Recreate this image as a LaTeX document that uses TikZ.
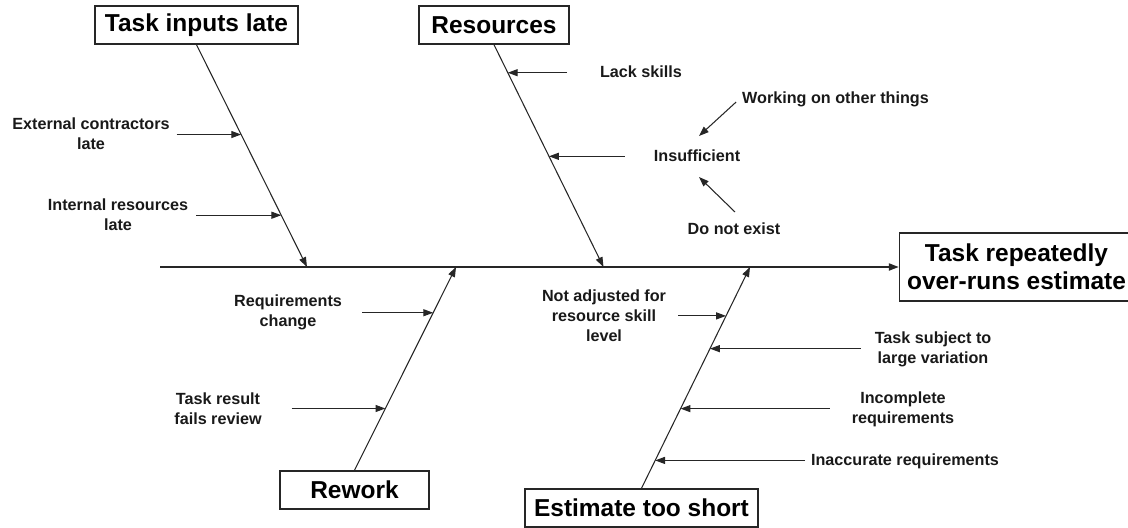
\documentclass[tikz,border=0pt]{standalone}
\usepackage{fontspec}
\setmainfont{Liberation Sans}
\usetikzlibrary{arrows.meta,calc,positioning}

\tikzset{
	>={Triangle[length=7pt,width=5pt]},
	cause/.style={draw=black!85, line width=1pt, font=\fontsize{17.4}{20}\selectfont\bfseries, minimum height=0.95cm, inner sep=0pt},
	reason/.style={font=\fontsize{11.5}{14.2}\selectfont\bfseries, align=center, inner sep=2pt, text=black!90},
	bone/.style={draw=black!85, line width=0.75pt},
	spine/.style={draw=black!85, line width=1.2pt},
}

\begin{document}
\begin{tikzpicture}[x=0.025cm, y=-0.025cm]
	\useasboundingbox (0,0) rectangle (1128,527);
	\clip (0,0) rectangle (1128,527);

	%% Kopf und Hauptgraete
	\node[cause, align=center, minimum width=5.85cm, minimum height=1.7cm] (effect) at (1016.5,267) {Task repeatedly\\over-runs estimate};
	\coordinate (tail) at (160,267);
	\draw[->, spine] (tail) -- (effect.west);
	\coordinate (j1) at (307,267);
	\coordinate (j2) at (603.5,267);
	\coordinate (j3) at (456,267);
	\coordinate (j4) at (750,267);
	%%%%%%%%%%%%%%%%

	%% Task inputs late
\begin{scope}
	\node[cause, minimum width=5.075cm] (inputs) at (196.5,25) {Task inputs late};
	\draw[->, bone] (inputs.south) -- (j1) coordinate[pos=.404] (ext-c) coordinate[pos=.767] (int-c);
	\node[reason] (ext) at (91,134) {External contractors\\late};
	\node[reason] (int) at (118,215) {Internal resources\\late};
	\draw[->, bone] ($(ext-c -| ext.east)+(4,0)$) -- (ext-c);
	\draw[->, bone] ($(int-c -| int.east)+(5,0)$) -- (int-c);
\end{scope}

	%% Resources
\begin{scope}
	\node[cause, minimum width=3.75cm] (resources) at (494,25) {Resources};
	\draw[->, bone] (resources.south) -- (j2) coordinate[pos=.126] (lack-c) coordinate[pos=.502] (insuff-c);
	\node[reason] (lack) at (641,72) {Lack skills};
	\node[reason] (insuff) at (697,156) {Insufficient};
	\node[reason] (work) at (835.5,99) {Working on other things};
	\node[reason] (dne) at (734,229) {Do not exist};
	\draw[->, bone] ($(lack-c -| lack.west)+(-30,0)$) -- (lack-c);
	\draw[->, bone] ($(insuff-c -| insuff.west)+(-26,0)$) -- (insuff-c);
	\draw[->, bone] ($(work.west)+(-3,3)$) -- ($(insuff.center)+(2,-20)$);
	\draw[->, bone] ($(dne.center)+(1,-17)$) -- ($(insuff.center)+(2,21)$);
\end{scope}

	%% Rework
\begin{scope}
	\node[cause, minimum width=3.725cm] (rework) at (354.5,490) {Rework};
	\draw[->, bone] (rework.north) -- (j3) coordinate[pos=.775] (req-c) coordinate[pos=.304] (fails-c);
	\node[reason] (req) at (288,312) {Requirements\\change};
	\node[reason] (fails) at (218,409) {Task result\\fails review};
	\draw[->, bone] ($(req-c -| req.east)+(17,0)$) -- (req-c);
	\draw[->, bone] ($(fails-c -| fails.east)+(27,0)$) -- (fails-c);
\end{scope}

	%% Estimate too short
\begin{scope}
	\node[cause, minimum width=5.825cm] (estimate) at (641.5,508) {Estimate too short};
	\draw[->, bone] (estimate.north) -- (j4) coordinate[pos=.779] (adj-c) coordinate[pos=.631] (var-c)
		coordinate[pos=.360] (incompl-c) coordinate[pos=.126] (inacc-c);
	\node[reason] (adj) at (604,316) {Not adjusted for\\resource skill\\level};
	\node[reason] (var) at (933,349) {Task subject to\\large variation};
	\node[reason] (incompl) at (903,409) {Incomplete\\requirements};
	\node[reason] (inacc) at (905,461) {Inaccurate requirements};
	\draw[->, bone] ($(adj-c -| adj.east)+(9,0)$) -- (adj-c);
	\draw[->, bone] ($(var-c -| var.west)+(-11,0)$) -- (var-c);
	\draw[->, bone] ($(incompl-c -| incompl.west)+(-19,0)$) -- (incompl-c);
	\draw[->, bone] ($(inacc-c -| inacc.west)+(-3,0)$) -- (inacc-c);
\end{scope}

%\draw (current bounding box.south west) rectangle (current bounding box.north east);
\end{tikzpicture}
\end{document}
